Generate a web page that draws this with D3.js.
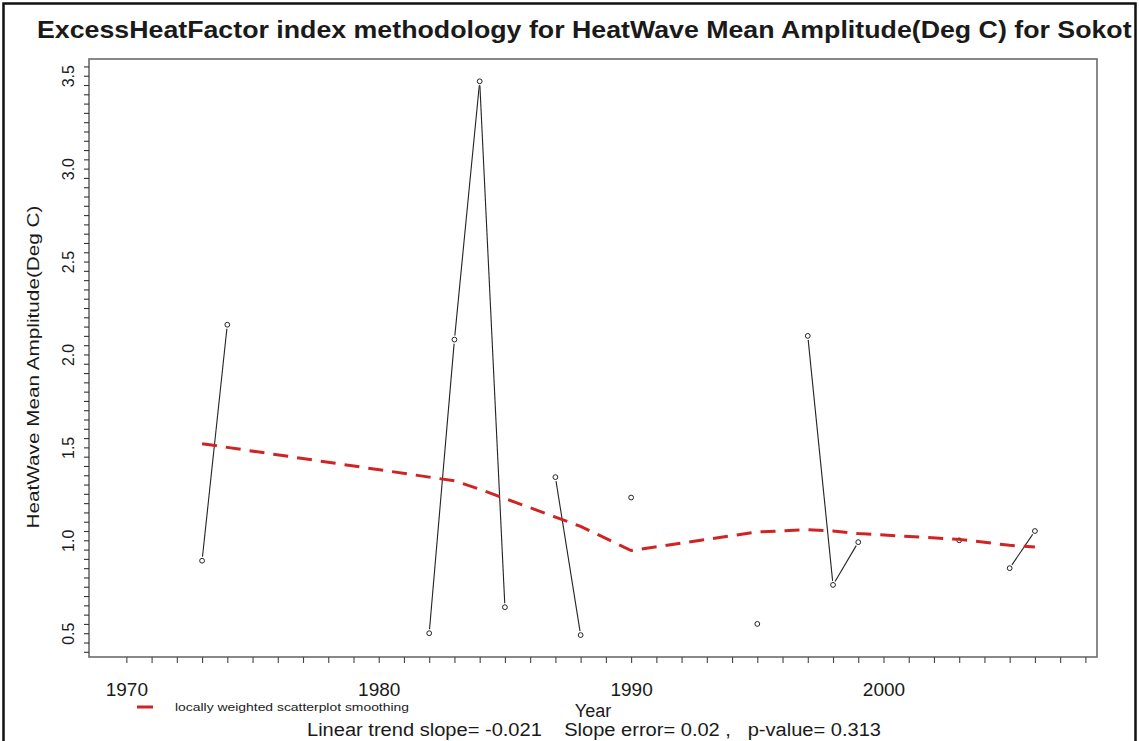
<!DOCTYPE html>
<html>
<head>
<meta charset="utf-8">
<script src="https://cdn.jsdelivr.net/npm/d3@7"></script>
<style>
  body { margin: 0; background: #fff; }
  svg { display: block; }
  text { font-family: "Liberation Sans", Arial, Helvetica, sans-serif; fill: #1a1a1a; white-space: pre; }
</style>
</head>
<body>
<svg id="chart" width="1139" height="741"></svg>
<script>
// Heatwave mean amplitude (Deg C) per year, with lowess fit at the same years
const years     = [1973, 1974, 1982, 1983, 1984, 1985, 1987, 1988, 1990, 1995, 1997, 1998, 1999, 2003, 2005, 2006];
const amplitude = [0.89, 2.16, 0.50, 2.08, 3.47, 0.64, 1.34, 0.49, 1.23, 0.55, 2.10, 0.76, 0.99, 1.00, 0.85, 1.05];
const lowessFit = [1.52, 1.50, 1.34, 1.32, 1.275, 1.225, 1.125, 1.075, 0.945, 1.045, 1.057, 1.05, 1.036, 1.005, 0.973, 0.964];

const xTickYears   = d3.range(1970, 2009);
const xLabelYears  = [1970, 1980, 1990, 2000];
const yMinorTicks  = d3.range(8, 72).map(i => +(i * 0.05).toFixed(2));
const yLabelValues = [0.5, 1.0, 1.5, 2.0, 2.5, 3.0, 3.5];

const titleText  = "ExcessHeatFactor index methodology for HeatWave Mean Amplitude(Deg C) for Sokot";
const yAxisTitle = "HeatWave Mean Amplitude(Deg C)";
const xAxisTitle = "Year";
const legendText = "locally weighted scatterplot smoothing";
const trendText  = "Linear trend slope= -0.021    Slope error= 0.02 ,   p-value= 0.313";

const plot = { left: 89, right: 1097, top: 59, bottom: 657 };

const svg = d3.select("#chart");

const x = d3.scaleLinear().domain([1968.52, 2008.46]).range([plot.left, plot.right]);
const y = d3.scaleLinear().domain([0.372, 3.59]).range([plot.bottom, plot.top]);

// Title: wide bold heading running up to the right edge of the frame
const titleG = svg.append("g");
const title = titleG.append("text")
  .attr("x", 0).attr("y", 0)
  .style("font-size", "23px").style("font-weight", "bold")
  .text(titleText);
const titleScale = (1132 - 37) / title.node().getComputedTextLength();
titleG.attr("transform", `translate(37,38) scale(${titleScale},1)`);

// Plot box
svg.append("rect")
  .attr("x", plot.left).attr("y", plot.top)
  .attr("width", plot.right - plot.left).attr("height", plot.bottom - plot.top)
  .attr("fill", "none").attr("stroke", "#6b6b6b").attr("stroke-width", 1.6);

// X axis: a tick every year, labels every decade
const xAxis = d3.axisBottom(x)
  .tickValues(xTickYears)
  .tickSize(6)
  .tickFormat(d => xLabelYears.includes(d) ? String(d) : "");
const gx = svg.append("g").attr("transform", `translate(0,${plot.bottom})`).call(xAxis);
gx.select(".domain").remove();
gx.selectAll(".tick line").attr("stroke", "#444").attr("stroke-width", 1.1);
gx.selectAll(".tick text")
  .attr("y", 26).attr("dy", "0.71em")
  .style("font-size", "19px").attr("fill", "#1a1a1a");

// Y axis: minor ticks every 0.05, rotated labels every 0.5
const yAxis = d3.axisLeft(y)
  .tickValues(yMinorTicks)
  .tickSize(5)
  .tickFormat(d => yLabelValues.some(v => Math.abs(v - d) < 1e-6) ? d.toFixed(1) : "");
const gy = svg.append("g").attr("transform", `translate(${plot.left},0)`).call(yAxis);
gy.select(".domain").remove();
gy.selectAll(".tick line").attr("stroke", "#333").attr("stroke-width", 1.1);
gy.selectAll(".tick text")
  .attr("x", 0).attr("dy", null)
  .attr("text-anchor", "middle")
  .attr("transform", "translate(-15,0) rotate(-90)")
  .style("font-size", "16px").attr("fill", "#1a1a1a");

// Axis titles
svg.append("text")
  .attr("transform", "translate(39,367) rotate(-90)")
  .attr("text-anchor", "middle")
  .attr("textLength", 323).attr("lengthAdjust", "spacingAndGlyphs")
  .style("font-size", "17px")
  .text(yAxisTitle);

svg.append("text")
  .attr("x", 593).attr("y", 717)
  .attr("text-anchor", "middle")
  .style("font-size", "18px")
  .text(xAxisTitle);

svg.append("text")
  .attr("x", 307).attr("y", 736)
  .attr("textLength", 574).attr("lengthAdjust", "spacingAndGlyphs")
  .style("font-size", "18px")
  .text(trendText);

// Legend for the smoothing curve
svg.append("line")
  .attr("x1", 137).attr("x2", 153).attr("y1", 707).attr("y2", 707)
  .attr("stroke", "#d02424").attr("stroke-width", 3);
svg.append("text")
  .attr("x", 175).attr("y", 711)
  .attr("textLength", 234).attr("lengthAdjust", "spacingAndGlyphs")
  .style("font-size", "11px")
  .text(legendText);

// Observations: segments join consecutive years only, leaving a gap around each point
const pts = years.map((yr, i) => ({ yr, v: amplitude[i], px: x(yr), py: y(amplitude[i]) }));
const gap = 4;
const segs = [];
for (let i = 1; i < pts.length; i++) {
  if (pts[i].yr - pts[i - 1].yr !== 1) continue;
  const a = pts[i - 1], b = pts[i];
  const dx = b.px - a.px, dy = b.py - a.py, len = Math.hypot(dx, dy);
  if (len <= 2 * gap) continue;
  const ux = dx / len, uy = dy / len;
  segs.push({ x1: a.px + ux * gap, y1: a.py + uy * gap, x2: b.px - ux * gap, y2: b.py - uy * gap });
}
svg.append("g").selectAll("line").data(segs).join("line")
  .attr("x1", d => d.x1).attr("y1", d => d.y1)
  .attr("x2", d => d.x2).attr("y2", d => d.y2)
  .attr("stroke", "#222").attr("stroke-width", 1.1);

svg.append("g").selectAll("circle").data(pts).join("circle")
  .attr("cx", d => d.px).attr("cy", d => d.py).attr("r", 2.4)
  .attr("fill", "none").attr("stroke", "#222").attr("stroke-width", 1);

// Lowess curve
const lowessLine = d3.line().x((d, i) => x(years[i])).y(d => y(d));
svg.append("path")
  .datum(lowessFit)
  .attr("d", lowessLine)
  .attr("fill", "none")
  .attr("stroke", "#d02424")
  .attr("stroke-width", 3)
  .attr("stroke-dasharray", "15,9");

// Outer frame
svg.append("rect")
  .attr("x", 3.5).attr("y", 3.5).attr("width", 1132).attr("height", 745)
  .attr("fill", "none").attr("stroke", "#111").attr("stroke-width", 2.5);
</script>
</body>
</html>
